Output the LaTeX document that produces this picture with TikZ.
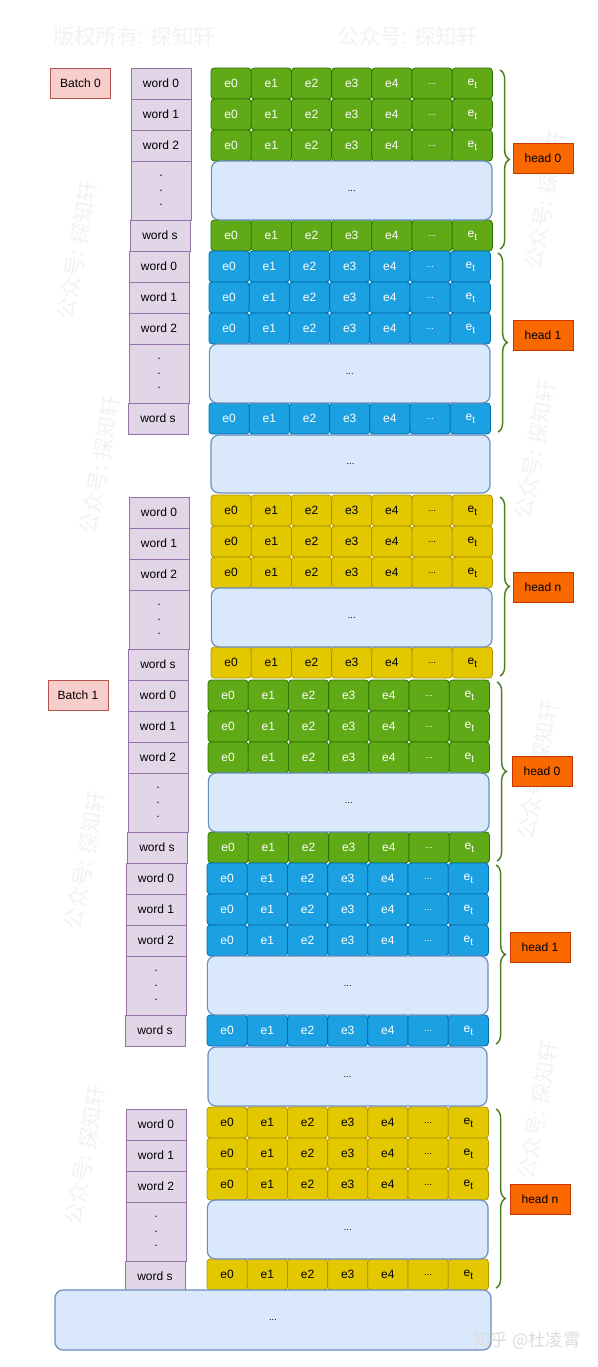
\documentclass[tikz,border=0pt]{standalone}
\usepackage{fontspec}
\setmainfont{Liberation Sans}
\newfontfamily\cjk{Noto Sans CJK SC}
\usetikzlibrary{decorations.pathreplacing}
\definecolor{gfill}{HTML}{60A917}\definecolor{gline}{HTML}{2D7600}
\definecolor{bfill}{HTML}{1BA1E2}\definecolor{bline}{HTML}{006EAF}
\definecolor{yfill}{HTML}{E3C800}\definecolor{yline}{HTML}{B09500}
\definecolor{lbfill}{HTML}{DAE8FC}\definecolor{lbline}{HTML}{6C8EBF}
\definecolor{pfill}{HTML}{E1D5E7}\definecolor{pline}{HTML}{9673A6}
\definecolor{rfill}{HTML}{F8CECC}\definecolor{rline}{HTML}{B85450}
\definecolor{ofill}{HTML}{FA6800}\definecolor{oline}{HTML}{C73500}
\definecolor{brc}{HTML}{4D7F1F}
\definecolor{wm}{HTML}{F2F2F2}
\definecolor{wm2}{HTML}{DCDCDC}
\newcommand\esub{e\raisebox{-2.2pt}{\fontsize{7.5}{7.5}\selectfont t}}
\tikzset{
  box/.style={inner sep=0pt,outer sep=0pt,font=\fontsize{9}{10}\selectfont,line width=0.6pt},
  cell/.style={box,rounded corners=2.5pt,minimum width=30.15pt,minimum height=23.25pt},
  gcell/.style={cell,fill=gfill,draw=gline,text=white},
  bcell/.style={cell,fill=bfill,draw=bline,text=white},
  ycell/.style={cell,fill=yfill,draw=yline,text=black},
  bigbox/.style={box,rounded corners=6pt,fill=lbfill,draw=lbline,line width=0.9pt},
  wordbox/.style={box,fill=pfill,draw=pline,minimum width=45pt,minimum height=23.25pt},
  batchbox/.style={box,fill=rfill,draw=rline,minimum width=45pt,minimum height=22.5pt},
  headbox/.style={box,fill=ofill,draw=oline,minimum width=45pt,minimum height=22.5pt},
  brace/.style={draw=brc,line width=1.1pt,decorate,decoration={brace,amplitude=7pt}},
  wmark/.style={text=wm,font=\cjk\fontsize{16}{16}\selectfont,inner sep=0pt}
}
% #1 prefix, #2 ex, #3 ey, #4 wx, #5 wy, #6 colour (g/b/y), #7 head label, #8 hx, #9 hy
\newcommand\hblock[9]{%
  \foreach \r/\dy in {0/0,1/31,2/62,s/152}{%
    \foreach \c/\lab in {0/e0,1/e1,2/e2,3/e3,4/e4,5/{\scriptsize ...},6/{\esub}}{%
      \node[#6cell] (#1-\r-\c) at ({#2+\c*40.2+20.1},{#3+\dy+15.5}) {\lab};
    }%
  }%
  \node[bigbox,minimum width=210.5pt,minimum height=44.25pt] (#1-big) at ({#2+140.7},{#3+122.5}) {\scriptsize ...};
  \foreach \r/\dy in {0/0,1/31,2/62}{%
    \node[wordbox] (#1-w\r) at ({#4+30},{#5+\dy+15.5}) {word \r};
  }%
  \node[wordbox,minimum height=44.25pt,align=center,font=\fontsize{9}{11}\selectfont] (#1-wd) at ({#4+30},{#5+122.5}) {.\\.\\.};
  \node[wordbox] (#1-ws) at ({#4+29},{#5+167.5}) {word s};
  \coordinate (#1-bt) at ({#2+289},{#3+2});
  \coordinate (#1-bb) at ({#2+289},{#3+181});
  \draw[brace] (#1-bt) -- (#1-bb);
  \node[headbox] (#1-head) at (#8,#9) {#7};
}
\begin{document}
\begin{tikzpicture}[x=0.75pt,y=-0.75pt]
\useasboundingbox (0,0) rectangle (597,1367);
\fill[white] (0,0) rectangle (597,1367);
% watermarks
\node[wmark] at (134,36) {版权所有: 探知轩};
\node[wmark] at (408,36) {公众号: 探知轩};
\foreach \wx/\wy in {77/250,100/465,85/860,85/1155}{\node[wmark,rotate=80] at (\wx,\wy) {公众号: 探知轩};}
\foreach \wx/\wy in {545/200,535/450,538/770,538/1110}{\node[wmark,rotate=80] at (\wx,\wy) {公众号: 探知轩};}
% batch labels
\node[batchbox] (batch0) at (80.5,83) {Batch 0};
\node[batchbox] (batch1) at (78,695) {Batch 1};
% blocks
\hblock{a0}{211}{68}{131}{68}{g}{head 0}{543}{158}
\hblock{a1}{209}{251}{129}{251}{b}{head 1}{543}{335}
\node[bigbox,minimum width=209.25pt,minimum height=43.5pt] (gap1) at (350.5,464) {\scriptsize ...};
\hblock{an}{211}{495}{129}{497}{y}{head n}{543}{587}
\hblock{b0}{208}{680}{128}{680}{g}{head 0}{542}{771}
\hblock{b1}{207}{863}{126}{863}{b}{head 1}{540}{947}
\node[bigbox,minimum width=209.25pt,minimum height=44.25pt] (gap2) at (347.5,1076.5) {\scriptsize ...};
\hblock{bn}{207}{1107}{126}{1109}{y}{head n}{540}{1199}
\node[bigbox,minimum width=327pt,minimum height=45pt] (final) at (273,1320) {\scriptsize ...};
\node[text=wm2,font=\cjk\fontsize{13}{13}\selectfont,inner sep=0pt] (zh) at (527,1341) {知乎 @杜凌霄};
\end{tikzpicture}
\end{document}
